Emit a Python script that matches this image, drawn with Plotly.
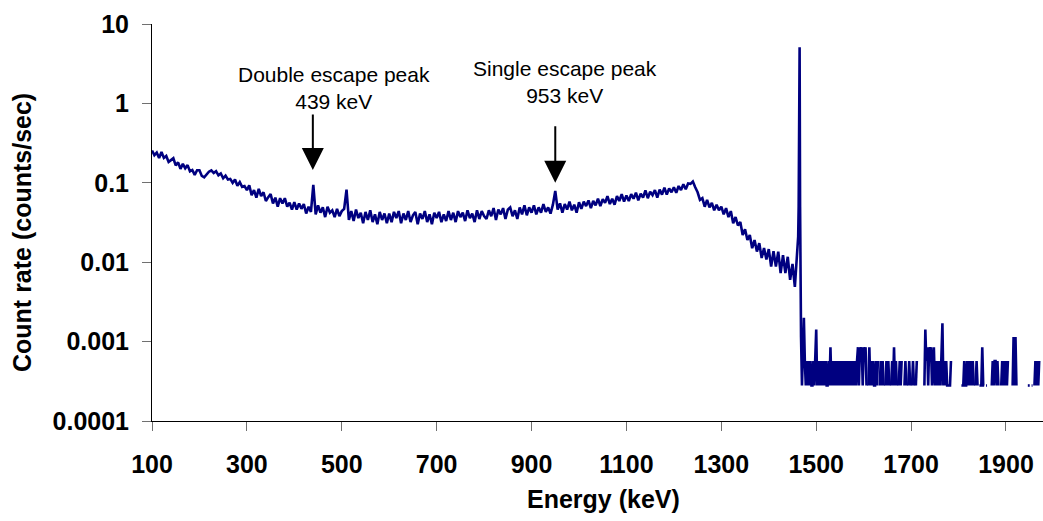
import plotly.graph_objects as go

# ---------------- data ----------------
# Continuum, 100 - 1455 keV, every 5 keV (counts/sec)
energy_continuum = list(range(100, 1460, 5))
rate_continuum = [
    # 100 - 200
    0.255, 0.223, 0.240, 0.205, 0.244, 0.206, 0.218, 0.183, 0.193, 0.204, 0.166,
    0.181, 0.150, 0.173, 0.152, 0.167, 0.139, 0.145, 0.126, 0.144, 0.144,
    # 205 - 300
    0.122, 0.117, 0.126, 0.138, 0.143, 0.133, 0.140, 0.124, 0.131, 0.114,
    0.123, 0.110, 0.112, 0.100, 0.110, 0.092, 0.102, 0.089, 0.091, 0.081,
    # 305 - 400
    0.093, 0.070, 0.081, 0.065, 0.084, 0.068, 0.076, 0.059, 0.066, 0.072,
    0.055, 0.065, 0.050, 0.064, 0.055, 0.064, 0.050, 0.056, 0.046, 0.057,
    # 405 - 500
    0.046, 0.055, 0.047, 0.054, 0.041, 0.050, 0.043, 0.094, 0.040, 0.052,
    0.042, 0.049, 0.037, 0.050, 0.042, 0.045, 0.037, 0.047, 0.038, 0.044,
    # 505 - 600
    0.047, 0.082, 0.034, 0.044, 0.033, 0.046, 0.036, 0.042, 0.031, 0.043,
    0.034, 0.045, 0.032, 0.040, 0.030, 0.043, 0.034, 0.041, 0.031, 0.041,
    # 605 - 700
    0.032, 0.043, 0.036, 0.044, 0.031, 0.041, 0.034, 0.044, 0.032, 0.039,
    0.043, 0.030, 0.041, 0.035, 0.044, 0.032, 0.040, 0.030, 0.042, 0.036,
    # 705 - 800
    0.043, 0.032, 0.040, 0.033, 0.044, 0.034, 0.042, 0.032, 0.044, 0.037,
    0.042, 0.033, 0.045, 0.036, 0.041, 0.032, 0.045, 0.035, 0.044, 0.038,
    # 805 - 900
    0.035, 0.045, 0.038, 0.048, 0.034, 0.046, 0.040, 0.048, 0.035, 0.046,
    0.049, 0.038, 0.045, 0.035, 0.049, 0.040, 0.052, 0.039, 0.049, 0.042,
    # 905 - 1000
    0.052, 0.040, 0.049, 0.042, 0.054, 0.043, 0.049, 0.041, 0.053, 0.079,
    0.046, 0.055, 0.042, 0.054, 0.046, 0.058, 0.045, 0.053, 0.042, 0.057,
    # 1005 - 1100
    0.047, 0.058, 0.051, 0.060, 0.048, 0.059, 0.052, 0.063, 0.051, 0.062,
    0.056, 0.068, 0.054, 0.063, 0.053, 0.068, 0.059, 0.072, 0.058, 0.069,
    # 1105 - 1200
    0.059, 0.072, 0.063, 0.075, 0.060, 0.073, 0.065, 0.080, 0.064, 0.077,
    0.070, 0.081, 0.065, 0.082, 0.071, 0.087, 0.071, 0.085, 0.076, 0.088,
    # 1205 - 1300
    0.075, 0.091, 0.081, 0.096, 0.083, 0.098, 0.097, 0.104, 0.088, 0.076,
    0.061, 0.064, 0.050, 0.061, 0.049, 0.056, 0.045, 0.053, 0.045, 0.050,
    # 1305 - 1400
    0.040, 0.048, 0.037, 0.044, 0.031, 0.037, 0.029, 0.032, 0.022, 0.026,
    0.019, 0.022, 0.015, 0.019, 0.0136, 0.0174, 0.0113, 0.0151, 0.0108, 0.0146,
    # 1405 - 1455
    0.0088, 0.0138, 0.0088, 0.0136, 0.0073, 0.0123, 0.0073, 0.0117, 0.0060, 0.0095,
    0.0049,
]

# Full-energy peak (K-40, ~1461 keV)
energy_peak = [1458, 1460, 1462, 1463, 1464, 1465, 1466, 1467]
rate_peak = [0.0098, 0.014, 0.021, 0.05, 0.6, 5.1, 0.05, 0.0021]

# Above the peak: a few counts per channel (None = zero counts), every 2 keV
energy_high = list(range(1468, 1976, 2))
rate_high = [
    0.00114, 0.00028, 0.00085, 0.002, 0.00057,      # 1468
    0.00028, 0.00057, 0.00028, 0.00057, 0.00028,    # 1478
    0.00057, 0.00028, 0.00028, 0.00057, 0.00028,    # 1488
    0.00057, 0.00142, 0.00028, 0.00057, 0.00028,    # 1498
    0.00057, 0.00028, 0.00057, 0.00028, 0.00057,    # 1508
    0.00028, 0.00057, 0.00028, 0.00028, 0.00057,    # 1518
    0.00028, 0.00085, 0.00028, 0.00057, 0.00028,    # 1528
    0.00057, 0.00028, 0.00057, 0.00028, 0.00057,    # 1538
    0.00028, 0.00057, 0.00028, 0.00057, 0.00028,    # 1548
    0.00057, 0.00028, 0.00057, 0.00028, 0.00057,    # 1558
    0.00028, 0.00057, 0.00028, 0.00057, 0.00028,    # 1568
    0.00057, 0.00028, 0.00057, 0.00028, 0.00057,    # 1578
    0.00085, 0.00028, 0.00085, 0.00057, 0.00085,    # 1588
    0.00028, 0.00085, 0.00057, 0.00085, 0.00028,    # 1598
    None, 0.00028, 0.00085, 0.00028, 0.00057,       # 1608
    0.00028, 0.00057, 0.00028, 0.00028, 0.00057,    # 1618
    0.00028, 0.00057, None, 0.00028, 0.00057,       # 1628
    0.00028, 0.00057, 0.00028, None, 0.00028,       # 1638
    0.00057, 0.00028, 0.00057, 0.00028, None,       # 1648
    0.00028, 0.00057, 0.00028, 0.00085, 0.00028,    # 1658
    0.00057, 0.00028, None, 0.00028, 0.00057,       # 1668
    0.00028, 0.00057, None, None, 0.00028,          # 1678
    0.00057, 0.00028, None, 0.00028, 0.00057,       # 1688
    0.00028, None, 0.00028, 0.00057, 0.00028,       # 1698
    None, 0.00028, 0.00057, None, None,             # 1708
    None, None, None, None, None,                   # 1718
    0.00028, 0.00142, 0.00057, 0.00085, 0.00028,    # 1728
    0.00085, 0.00057, 0.00085, 0.00028, 0.00057,    # 1738
    0.00085, 0.00028, 0.00057, 0.00028, 0.00057,    # 1748
    0.00028, 0.00057, 0.00028, 0.00057, 0.0017,     # 1758
    0.00028, 0.00057, 0.00028, 0.00057, 0.00028,    # 1768
    0.00028, 0.00028, 0.00028, 0.00057, None,       # 1778
    None, None, None, None, None,                   # 1788
    None, None, None, None, 0.00028,                # 1798
    0.00028, 0.00028, 0.00057, 0.00028, 0.00028,    # 1808
    0.00057, 0.00028, 0.00057, 0.00028, 0.00057,    # 1818
    0.00028, 0.00057, 0.00028, None, 0.00028,       # 1828
    0.00057, 0.00028, None, 0.00028, 0.00028,       # 1838
    0.00028, 0.00085, 0.00028, 0.00028, None,       # 1848
    0.00028, 0.00028, None, None, 0.00028,          # 1858
    None, 0.00028, 0.00057, 0.00028, 0.00057,       # 1868
    0.00057, 0.00028, 0.00057, 0.00028, None,       # 1878
    None, 0.00028, 0.00057, 0.00028, 0.00057,       # 1888
    0.00028, 0.00057, 0.00028, 0.00057, None,       # 1898
    None, None, None, 0.00028, 0.00114,             # 1908
    0.00028, 0.00114, 0.00028, None, None,          # 1918
    None, None, None, None, None,                   # 1928
    None, None, None, None, 0.00028,                # 1938
    0.00028, 0.00028, None, 0.00028, 0.00028,       # 1948
    None, 0.00028, 0.00057, 0.00028, 0.00057,       # 1958
    0.00028, 0.00057, None, None,                   # 1968
]

x_tickvals = [100, 300, 500, 700, 900, 1100, 1300, 1500, 1700, 1900]
y_tickvals = [0.0001, 0.001, 0.01, 0.1, 1, 10]
y_ticktext = ["0.0001", "0.001", "0.01", "0.1", "1", "10"]

x_title = "Energy (keV)"
y_title = "Count rate (counts/sec)"
note_double = "Double escape peak<br>439 keV"
note_single = "Single escape peak<br>953 keV"

assert len(energy_continuum) == len(rate_continuum)
assert len(energy_high) == len(rate_high)

energy = energy_continuum + energy_peak + energy_high
rate = rate_continuum + rate_peak + rate_high

# ---------------- figure ----------------
FONT = "Liberation Sans, Arial, sans-serif"
W, H = 1043, 521
L, R, T, B = 152, 0, 24, 100
PW, PH = W - L - R, H - T - B

def px_to_paper_x(px):
    return (px - L) / PW

def px_to_paper_y(py):
    return (H - B - py) / PH

fig = go.Figure()
fig.add_trace(go.Scatter(
    x=energy, y=rate, mode="lines",
    line=dict(color="#000080", width=2.6),
    connectgaps=False, showlegend=False, hoverinfo="skip",
))

axis_common = dict(
    showgrid=False, zeroline=False, showline=True, linecolor="black", linewidth=1,
    ticks="outside", ticklen=9, tickwidth=1, tickcolor="#707070",
    tickfont=dict(family=FONT, size=25, color="black", weight="bold"),
)

fig.update_layout(
    width=W, height=H,
    margin=dict(l=L, r=R, t=T, b=B, pad=0),
    paper_bgcolor="white", plot_bgcolor="white",
    xaxis=dict(range=[100, 1978], tickvals=x_tickvals, ticklabelstandoff=12, **axis_common),
    yaxis=dict(type="log", range=[-4, 1], tickvals=y_tickvals, ticktext=y_ticktext,
               ticklabelstandoff=8, **axis_common),
)

ann_font = dict(family=FONT, size=21, color="black")
title_font = dict(family=FONT, size=25, color="black", weight="bold")

fig.add_annotation(x=px_to_paper_x(603), y=px_to_paper_y(499), xref="paper", yref="paper",
                   text=x_title, showarrow=False, font=title_font,
                   xanchor="center", yanchor="middle")
fig.add_annotation(x=px_to_paper_x(22), y=px_to_paper_y(233), xref="paper", yref="paper",
                   text=y_title, showarrow=False, font=title_font, textangle=-90,
                   xanchor="center", yanchor="middle")

# Peak labels
fig.add_annotation(x=px_to_paper_x(334), y=px_to_paper_y(88), xref="paper", yref="paper",
                   text=note_double, showarrow=False, font=ann_font,
                   xanchor="center", yanchor="middle", align="center")
fig.add_annotation(x=px_to_paper_x(565), y=px_to_paper_y(82), xref="paper", yref="paper",
                   text=note_single, showarrow=False, font=ann_font,
                   xanchor="center", yanchor="middle", align="center")

# Arrows pointing at the escape peaks
fig.add_annotation(x=439, y=-0.839, xref="x", yref="y", text="", showarrow=True,
                   ax=0, ay=-57, arrowhead=2, arrowsize=2.2, arrowwidth=2,
                   arrowcolor="black", standoff=0)
fig.add_annotation(x=950, y=-1.0, xref="x", yref="y", text="", showarrow=True,
                   ax=0, ay=-58, arrowhead=2, arrowsize=2.2, arrowwidth=2,
                   arrowcolor="black", standoff=0)

fig.write_html("out.html")
